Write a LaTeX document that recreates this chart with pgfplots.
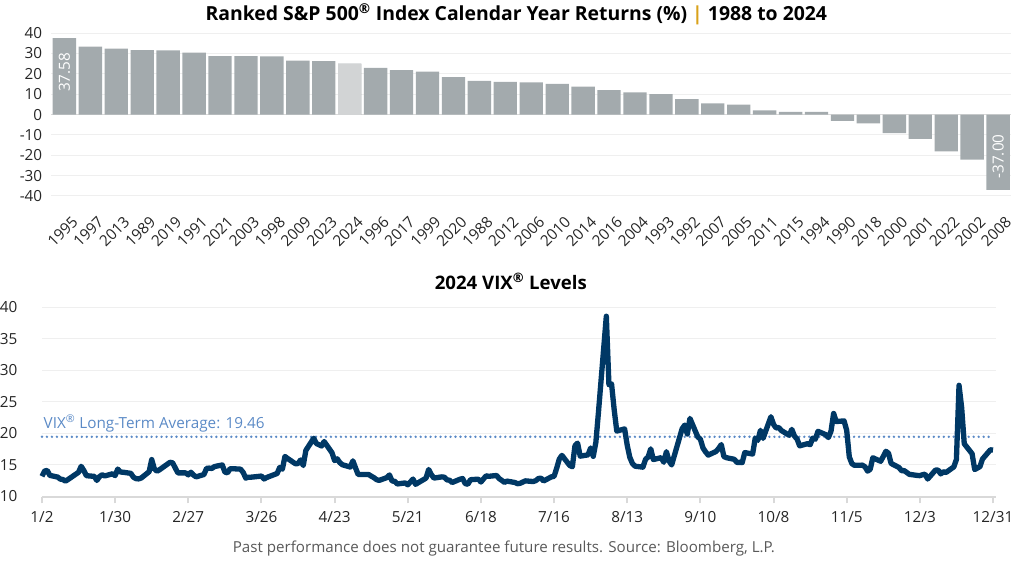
\documentclass[border=0pt]{standalone}
\usepackage{fontspec}
\setmainfont{Open Sans}
\usepackage{pgfplots}
\usepackage{pgfplotstable}
\pgfplotsset{compat=1.18}
\usepgfplotslibrary{dateplot}

\definecolor{bargray}{HTML}{A3AAAD}
\definecolor{barlight}{HTML}{D2D4D5}
\definecolor{vixnavy}{HTML}{003865}
\definecolor{avgblue}{HTML}{5B8AC6}
\definecolor{gold}{HTML}{D9A21B}
\definecolor{gridgray}{HTML}{EFEFEF}
\definecolor{axisgray}{HTML}{D9D9D9}
\definecolor{notegray}{HTML}{595959}
\definecolor{ticktext}{HTML}{262626}

% ranked calendar year returns
\pgfplotstableread{
x year ret
0 1995 37.58
1 1997 33.36
2 2013 32.39
3 1989 31.69
4 2019 31.49
5 1991 30.47
6 2021 28.71
7 2003 28.68
8 1998 28.58
9 2009 26.46
10 2023 26.29
11 2024 25.02
12 1996 22.96
13 2017 21.83
14 1999 21.04
15 2020 18.40
16 1988 16.61
17 2012 16.00
18 2006 15.79
19 2010 15.06
20 2014 13.69
21 2016 11.96
22 2004 10.88
23 1993 10.08
24 1992 7.62
25 2007 5.49
26 2005 4.91
27 2011 2.11
28 2015 1.38
29 1994 1.32
30 1990 -3.10
31 2018 -4.38
32 2000 -9.10
33 2001 -11.89
34 2022 -18.11
35 2002 -22.10
36 2008 -37.00
}\rets

% VIX daily closes 2024
\pgfplotstableread{
date vix
2024-01-02 13.20
2024-01-03 14.04
2024-01-04 14.13
2024-01-05 13.35
2024-01-08 13.08
2024-01-09 12.76
2024-01-10 12.69
2024-01-11 12.44
2024-01-12 12.70
2024-01-16 13.84
2024-01-17 14.79
2024-01-18 14.13
2024-01-19 13.30
2024-01-22 13.19
2024-01-23 12.55
2024-01-24 13.14
2024-01-25 13.45
2024-01-26 13.26
2024-01-29 13.60
2024-01-30 13.31
2024-01-31 14.35
2024-02-01 13.88
2024-02-02 13.85
2024-02-05 13.67
2024-02-06 13.06
2024-02-07 12.83
2024-02-08 12.79
2024-02-09 12.93
2024-02-12 13.93
2024-02-13 15.85
2024-02-14 14.38
2024-02-15 14.01
2024-02-16 14.24
2024-02-20 15.42
2024-02-21 15.34
2024-02-22 14.54
2024-02-23 13.75
2024-02-26 13.74
2024-02-27 13.43
2024-02-28 13.84
2024-02-29 13.40
2024-03-01 13.11
2024-03-04 13.49
2024-03-05 14.46
2024-03-06 14.50
2024-03-07 14.44
2024-03-08 14.74
2024-03-11 15.00
2024-03-12 13.88
2024-03-13 13.75
2024-03-14 14.40
2024-03-15 14.41
2024-03-18 14.33
2024-03-19 13.82
2024-03-20 12.92
2024-03-21 13.06
2024-03-22 13.06
2024-03-25 13.19
2024-03-26 13.24
2024-03-27 12.78
2024-03-28 13.01
2024-04-01 13.65
2024-04-02 14.61
2024-04-03 14.33
2024-04-04 16.35
2024-04-05 16.03
2024-04-08 15.19
2024-04-09 15.22
2024-04-10 15.80
2024-04-11 14.91
2024-04-12 17.31
2024-04-15 19.23
2024-04-16 18.40
2024-04-17 18.21
2024-04-18 18.00
2024-04-19 18.71
2024-04-22 16.94
2024-04-23 15.69
2024-04-24 15.97
2024-04-25 15.37
2024-04-26 15.03
2024-04-29 14.67
2024-04-30 15.65
2024-05-01 14.55
2024-05-02 13.49
2024-05-03 13.49
2024-05-06 13.49
2024-05-07 13.23
2024-05-08 13.00
2024-05-09 12.69
2024-05-10 12.55
2024-05-13 12.99
2024-05-14 13.42
2024-05-15 12.45
2024-05-16 12.42
2024-05-17 11.99
2024-05-20 12.15
2024-05-21 11.86
2024-05-22 12.29
2024-05-23 12.77
2024-05-24 11.93
2024-05-28 12.92
2024-05-29 14.28
2024-05-30 13.49
2024-05-31 12.92
2024-06-03 13.11
2024-06-04 13.06
2024-06-05 12.63
2024-06-06 12.58
2024-06-07 12.22
2024-06-10 12.74
2024-06-11 12.85
2024-06-12 12.04
2024-06-13 11.94
2024-06-14 12.66
2024-06-17 12.75
2024-06-18 12.30
2024-06-20 13.28
2024-06-21 13.20
2024-06-24 13.33
2024-06-25 12.84
2024-06-26 12.55
2024-06-27 12.24
2024-06-28 12.44
2024-07-01 12.22
2024-07-02 12.03
2024-07-03 12.09
2024-07-05 12.48
2024-07-08 12.37
2024-07-09 12.51
2024-07-10 12.85
2024-07-11 12.91
2024-07-12 12.46
2024-07-15 13.12
2024-07-16 13.19
2024-07-17 14.48
2024-07-18 15.93
2024-07-19 16.52
2024-07-22 14.91
2024-07-23 14.72
2024-07-24 18.04
2024-07-25 18.46
2024-07-26 16.39
2024-07-29 16.60
2024-07-30 17.69
2024-07-31 16.36
2024-08-01 18.59
2024-08-02 23.39
2024-08-05 38.57
2024-08-06 27.71
2024-08-07 27.85
2024-08-08 23.79
2024-08-09 20.37
2024-08-12 20.71
2024-08-13 18.12
2024-08-14 16.19
2024-08-15 15.23
2024-08-16 14.80
2024-08-19 14.65
2024-08-20 15.88
2024-08-21 16.27
2024-08-22 17.55
2024-08-23 15.86
2024-08-26 16.15
2024-08-27 15.43
2024-08-28 17.11
2024-08-29 15.65
2024-08-30 15.00
2024-09-03 20.72
2024-09-04 21.32
2024-09-05 19.90
2024-09-06 22.38
2024-09-09 19.45
2024-09-10 19.08
2024-09-11 17.69
2024-09-12 17.07
2024-09-13 16.56
2024-09-16 17.14
2024-09-17 17.61
2024-09-18 18.23
2024-09-19 16.33
2024-09-20 16.15
2024-09-23 15.89
2024-09-24 15.39
2024-09-25 15.41
2024-09-26 15.37
2024-09-27 16.96
2024-09-30 16.73
2024-10-01 19.26
2024-10-02 18.90
2024-10-03 20.49
2024-10-04 19.21
2024-10-07 22.64
2024-10-08 21.42
2024-10-09 20.86
2024-10-10 20.93
2024-10-11 20.46
2024-10-14 19.70
2024-10-15 20.64
2024-10-16 19.58
2024-10-17 19.11
2024-10-18 18.03
2024-10-21 18.37
2024-10-22 18.20
2024-10-23 19.24
2024-10-24 19.08
2024-10-25 20.33
2024-10-28 19.80
2024-10-29 19.34
2024-10-30 20.35
2024-10-31 23.16
2024-11-01 21.88
2024-11-04 21.98
2024-11-05 20.49
2024-11-06 16.27
2024-11-07 15.20
2024-11-08 14.94
2024-11-11 14.97
2024-11-12 14.71
2024-11-13 14.02
2024-11-14 14.31
2024-11-15 16.14
2024-11-18 15.58
2024-11-19 16.35
2024-11-20 17.16
2024-11-21 16.87
2024-11-22 15.24
2024-11-25 14.60
2024-11-26 14.10
2024-11-27 14.10
2024-11-29 13.51
2024-12-02 13.34
2024-12-03 13.30
2024-12-04 13.45
2024-12-05 13.54
2024-12-06 12.77
2024-12-09 14.19
2024-12-10 14.18
2024-12-11 13.58
2024-12-12 13.92
2024-12-13 13.81
2024-12-16 14.69
2024-12-17 15.87
2024-12-18 27.62
2024-12-19 24.09
2024-12-20 18.36
2024-12-23 16.78
2024-12-24 14.27
2024-12-26 14.73
2024-12-27 15.95
2024-12-30 17.40
2024-12-31 17.35
}\vix

\begin{document}
\begin{tikzpicture}
% texts placed in the pixel frame of the reference (1024 x 567)
\begin{scope}[x=0.75pt,y=-0.75pt]
\path[use as bounding box] (0,0) rectangle (1024,567);
\node[anchor=base, inner sep=0pt, font=\fontsize{14.6}{16}\selectfont\bfseries, text=black]
  at (514.5,21) {Ranked S\&P 500\textsuperscript{®} Index Calendar Year Returns (\%) {\color{gold}|} 1988 to 2024};
\node[anchor=base, inner sep=0pt, font=\fontsize{14}{16}\selectfont\bfseries, text=black]
  at (509,290.7) {2024 VIX\textsuperscript{®} Levels};
\node[anchor=base, inner sep=0pt, font=\fontsize{11.4}{13}\selectfont, text=notegray]
  at (502,554) {Past performance does not guarantee future results. Source: Bloomberg, L.P.};
\node[anchor=base west, inner sep=0pt, font=\fontsize{11.5}{13}\selectfont, text=avgblue]
  at (40,430) {VIX\textsuperscript{®} Long-Term Average: 19.46};
\end{scope}

% ranked returns
\begin{axis}[
  at={(36pt,-147.5pt)}, anchor=south west, scale only axis,
  width=722.25pt, height=122.55pt,
  xmin=-0.5, xmax=36.5, ymin=-40, ymax=40,
  ybar, bar width=0.9, bar shift=0pt,
  ytick={-40,-30,...,40},
  xtick={0,...,36},
  xticklabels from table={\rets}{year},
  ymajorgrids, grid style={draw=gridgray, line width=0.75pt},
  extra y ticks={0}, extra y tick labels={},
  extra y tick style={grid style={draw=axisgray, line width=1pt}},
  axis line style={draw=none}, tick style={draw=none},
  ticklabel style={font=\fontsize{11.5}{12}\selectfont, text=ticktext},
  yticklabel style={anchor=east, inner sep=0pt, xshift=-6.75pt},
  xticklabel style={inner sep=0pt, xshift=8pt, yshift=-13pt, anchor=east, rotate=45},
  /pgf/number format/assume math mode=true,
  clip=false,
]
\addplot[fill=bargray, draw=none] table[x=x, y=ret] {\rets};
\addplot[fill=barlight, draw=none] coordinates {(11,25.02)};
\node[rotate=90, anchor=east, text=white, font=\fontsize{11.5}{12}\selectfont, inner sep=0pt]
  at (axis cs:0,30.5) {37.58};
\node[rotate=90, anchor=west, text=white, font=\fontsize{11.5}{12}\selectfont, inner sep=0pt]
  at (axis cs:36,-31.5) {-37.00};
\end{axis}

% VIX levels
\begin{axis}[
  at={(28.875pt,-373.7pt)}, anchor=south west, scale only axis,
  width=717.75pt, height=142.5pt,
  date coordinates in=x,
  xmin=2024-01-02, xmax=2025-01-01,
  ymin=10, ymax=40, ytick={10,15,...,40},
  xtick={2024-01-02,2024-01-30,2024-02-27,2024-03-26,2024-04-23,2024-05-21,2024-06-18,2024-07-16,2024-08-13,2024-09-10,2024-10-08,2024-11-05,2024-12-03,2024-12-31},
  xticklabels={1/2,1/30,2/27,3/26,4/23,5/21,6/18,7/16,8/13,9/10,10/8,11/5,12/3,12/31},
  axis x line*=bottom, axis y line*=left,
  x axis line style={draw=axisgray, line width=1.5pt},
  y axis line style={draw=none},
  ytick style={draw=none},
  xtick style={draw=axisgray, line width=1.5pt},
  tick align=outside, major tick length=5.25pt,
  ymajorgrids, grid style={draw=gridgray, line width=0.75pt},
  ticklabel style={font=\fontsize{11.5}{12}\selectfont, text=ticktext},
  yticklabel style={anchor=east, inner sep=0pt, xshift=-13pt},
  xticklabel style={anchor=base, inner sep=0pt, yshift=-14pt},
  /pgf/number format/assume math mode=true,
  clip=false,
]
\addplot[avgblue, line width=2pt, dash pattern=on 0pt off 3.75pt, line cap=round]
  coordinates {(2024-01-02,19.46) (2024-12-31,19.46)};
\addplot[vixnavy, line width=4pt, line join=round, mark=none]
  table[x=date, y=vix] {\vix};
\end{axis}
\end{tikzpicture}
\end{document}
